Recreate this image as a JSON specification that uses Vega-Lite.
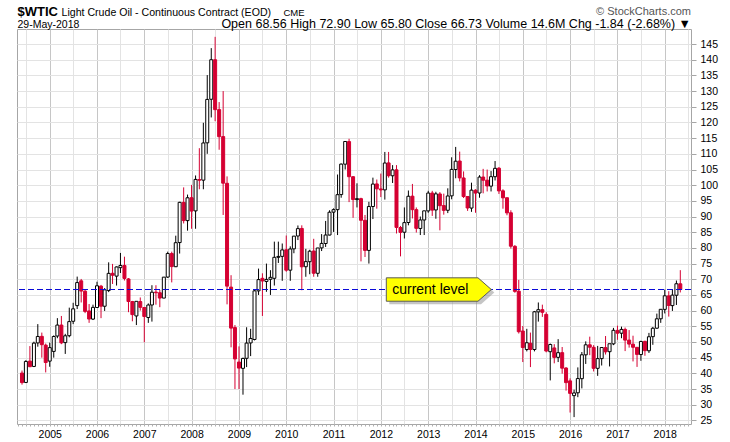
{
  "$schema": "https://vega.github.io/schema/vega-lite/v6.json",
  "width": 674,
  "height": 395,
  "autosize": {"type": "none"},
  "padding": {"left": 17, "top": 29, "right": 39, "bottom": 18},
  "background": "white",
  "config": {
    "font": "Liberation Sans",
    "view": {"stroke": "#a6a6a6", "strokeWidth": 1}
  },
  "title": {
    "text": "© StockCharts.com",
    "subtitle": "Open 68.56  High 72.90  Low 65.80  Close 66.73  Volume 14.6M  Chg -1.84 (-2.68%) ▼",
    "anchor": "end",
    "frame": "group",
    "offset": -25,
    "fontSize": 11,
    "fontWeight": "normal",
    "color": "#555555",
    "subtitleFontSize": 12.5,
    "subtitleColor": "#000000",
    "subtitlePadding": 1
  },
  "data": {
    "values": [
      {"d": "2004-06-01", "o": 40.1, "h": 40.9, "l": 36.4, "c": 37.05},
      {"d": "2004-07-01", "o": 37.1, "h": 44.2, "l": 36.9, "c": 43.8},
      {"d": "2004-08-01", "o": 43.9, "h": 48.7, "l": 42.0, "c": 42.12},
      {"d": "2004-09-01", "o": 42.2, "h": 50.1, "l": 42.0, "c": 49.64},
      {"d": "2004-10-01", "o": 49.7, "h": 55.7, "l": 48.5, "c": 51.76},
      {"d": "2004-11-01", "o": 51.8, "h": 53.0, "l": 45.0, "c": 49.13},
      {"d": "2004-12-01", "o": 49.0, "h": 49.5, "l": 40.3, "c": 43.45},
      {"d": "2005-01-01", "o": 43.9, "h": 49.8, "l": 42.1, "c": 48.2},
      {"d": "2005-02-01", "o": 47.0, "h": 52.1, "l": 45.0, "c": 51.75},
      {"d": "2005-03-01", "o": 51.9, "h": 57.6, "l": 51.2, "c": 55.4},
      {"d": "2005-04-01", "o": 55.4, "h": 58.3, "l": 49.3, "c": 49.72},
      {"d": "2005-05-01", "o": 49.8, "h": 52.6, "l": 46.2, "c": 51.97},
      {"d": "2005-06-01", "o": 52.0, "h": 60.95, "l": 51.5, "c": 56.5},
      {"d": "2005-07-01", "o": 56.6, "h": 62.5, "l": 55.7, "c": 60.57},
      {"d": "2005-08-01", "o": 61.6, "h": 70.85, "l": 60.5, "c": 68.94},
      {"d": "2005-09-01", "o": 69.5, "h": 70.1, "l": 62.6, "c": 66.24},
      {"d": "2005-10-01", "o": 66.2, "h": 66.8, "l": 59.2, "c": 59.76},
      {"d": "2005-11-01", "o": 59.9, "h": 62.1, "l": 56.1, "c": 57.32},
      {"d": "2005-12-01", "o": 57.3, "h": 61.9, "l": 57.0, "c": 61.04},
      {"d": "2006-01-01", "o": 61.0, "h": 69.2, "l": 60.9, "c": 67.92},
      {"d": "2006-02-01", "o": 67.8, "h": 68.2, "l": 57.6, "c": 61.41},
      {"d": "2006-03-01", "o": 61.4, "h": 67.2, "l": 59.9, "c": 66.63},
      {"d": "2006-04-01", "o": 66.4, "h": 75.4, "l": 65.9, "c": 71.88},
      {"d": "2006-05-01", "o": 71.9, "h": 74.9, "l": 68.5, "c": 71.29},
      {"d": "2006-06-01", "o": 71.0, "h": 74.1, "l": 68.0, "c": 73.93},
      {"d": "2006-07-01", "o": 73.7, "h": 78.4, "l": 72.0, "c": 74.4},
      {"d": "2006-08-01", "o": 74.4, "h": 77.2, "l": 69.6, "c": 70.26},
      {"d": "2006-09-01", "o": 70.1, "h": 70.4, "l": 59.5, "c": 62.91},
      {"d": "2006-10-01", "o": 62.9, "h": 63.1, "l": 56.6, "c": 58.73},
      {"d": "2006-11-01", "o": 58.3, "h": 62.5, "l": 55.4, "c": 62.97},
      {"d": "2006-12-01", "o": 62.9, "h": 64.2, "l": 60.0, "c": 61.05},
      {"d": "2007-01-01", "o": 61.0, "h": 61.1, "l": 49.9, "c": 58.14},
      {"d": "2007-02-01", "o": 57.8, "h": 62.3, "l": 56.1, "c": 61.79},
      {"d": "2007-03-01", "o": 61.8, "h": 68.1, "l": 56.5, "c": 65.87},
      {"d": "2007-04-01", "o": 65.9, "h": 68.1, "l": 61.9, "c": 65.71},
      {"d": "2007-05-01", "o": 65.7, "h": 66.6, "l": 61.1, "c": 64.01},
      {"d": "2007-06-01", "o": 64.0, "h": 70.7, "l": 64.0, "c": 70.68},
      {"d": "2007-07-01", "o": 70.7, "h": 78.8, "l": 70.4, "c": 78.21},
      {"d": "2007-08-01", "o": 78.2, "h": 78.8, "l": 69.0, "c": 74.04},
      {"d": "2007-09-01", "o": 74.0, "h": 83.9, "l": 73.9, "c": 81.66},
      {"d": "2007-10-01", "o": 81.7, "h": 94.7, "l": 78.2, "c": 94.53},
      {"d": "2007-11-01", "o": 94.5, "h": 99.3, "l": 87.8, "c": 88.71},
      {"d": "2007-12-01", "o": 88.7, "h": 97.0, "l": 85.5, "c": 95.98},
      {"d": "2008-01-01", "o": 96.0, "h": 100.1, "l": 86.1, "c": 91.75},
      {"d": "2008-02-01", "o": 91.8, "h": 103.1, "l": 86.1, "c": 101.84},
      {"d": "2008-03-01", "o": 101.8, "h": 111.8, "l": 98.7, "c": 101.58},
      {"d": "2008-04-01", "o": 101.6, "h": 119.9, "l": 98.7, "c": 113.46},
      {"d": "2008-05-01", "o": 113.5, "h": 135.1, "l": 110.0, "c": 127.35},
      {"d": "2008-06-01", "o": 127.4, "h": 143.7, "l": 121.6, "c": 140.0},
      {"d": "2008-07-01", "o": 140.0, "h": 147.3, "l": 120.4, "c": 124.08},
      {"d": "2008-08-01", "o": 124.1, "h": 126.5, "l": 111.3, "c": 115.46},
      {"d": "2008-09-01", "o": 115.5, "h": 130.0, "l": 90.5, "c": 100.64},
      {"d": "2008-10-01", "o": 100.6, "h": 102.8, "l": 62.0, "c": 67.81},
      {"d": "2008-11-01", "o": 67.5, "h": 71.3, "l": 48.3, "c": 54.43},
      {"d": "2008-12-01", "o": 54.6, "h": 55.4, "l": 35.0, "c": 44.6},
      {"d": "2009-01-01", "o": 43.6, "h": 48.6, "l": 35.0, "c": 41.68},
      {"d": "2009-02-01", "o": 41.6, "h": 45.0, "l": 33.2, "c": 44.76},
      {"d": "2009-03-01", "o": 44.8, "h": 54.7, "l": 42.0, "c": 49.66},
      {"d": "2009-04-01", "o": 49.7, "h": 54.2, "l": 45.5, "c": 51.12},
      {"d": "2009-05-01", "o": 50.8, "h": 66.6, "l": 50.5, "c": 66.31},
      {"d": "2009-06-01", "o": 66.3, "h": 73.4, "l": 65.0, "c": 69.89},
      {"d": "2009-07-01", "o": 70.3, "h": 71.9, "l": 58.3, "c": 69.45},
      {"d": "2009-08-01", "o": 69.3, "h": 75.0, "l": 66.0, "c": 69.96},
      {"d": "2009-09-01", "o": 70.0, "h": 72.9, "l": 65.0, "c": 70.61},
      {"d": "2009-10-01", "o": 70.3, "h": 82.0, "l": 68.0, "c": 77.0},
      {"d": "2009-11-01", "o": 77.0, "h": 82.0, "l": 75.2, "c": 77.28},
      {"d": "2009-12-01", "o": 77.3, "h": 81.4, "l": 69.5, "c": 79.36},
      {"d": "2010-01-01", "o": 79.4, "h": 83.95, "l": 72.4, "c": 72.89},
      {"d": "2010-02-01", "o": 72.9, "h": 80.5, "l": 69.5, "c": 79.66},
      {"d": "2010-03-01", "o": 79.7, "h": 83.8, "l": 78.3, "c": 83.76},
      {"d": "2010-04-01", "o": 83.8, "h": 87.15, "l": 82.5, "c": 86.15},
      {"d": "2010-05-01", "o": 86.2, "h": 87.2, "l": 66.5, "c": 73.97},
      {"d": "2010-06-01", "o": 74.0, "h": 79.7, "l": 70.8, "c": 75.63},
      {"d": "2010-07-01", "o": 75.6, "h": 79.4, "l": 71.6, "c": 78.95},
      {"d": "2010-08-01", "o": 79.0, "h": 82.9, "l": 70.8, "c": 71.92},
      {"d": "2010-09-01", "o": 71.9, "h": 80.0, "l": 70.8, "c": 79.97},
      {"d": "2010-10-01", "o": 80.0, "h": 84.4, "l": 79.0, "c": 81.43},
      {"d": "2010-11-01", "o": 81.4, "h": 88.6, "l": 80.3, "c": 84.11},
      {"d": "2010-12-01", "o": 84.1, "h": 92.0, "l": 84.0, "c": 91.38},
      {"d": "2011-01-01", "o": 91.4, "h": 92.6, "l": 85.1, "c": 92.19},
      {"d": "2011-02-01", "o": 92.2, "h": 103.4, "l": 84.1, "c": 96.97},
      {"d": "2011-03-01", "o": 97.0, "h": 106.9, "l": 96.0, "c": 106.72},
      {"d": "2011-04-01", "o": 106.7, "h": 114.0, "l": 105.0, "c": 113.93},
      {"d": "2011-05-01", "o": 113.9, "h": 114.8, "l": 94.6, "c": 102.7},
      {"d": "2011-06-01", "o": 102.7, "h": 102.9, "l": 89.6, "c": 95.42},
      {"d": "2011-07-01", "o": 95.4, "h": 100.6, "l": 92.9, "c": 95.7},
      {"d": "2011-08-01", "o": 95.7, "h": 96.0, "l": 75.7, "c": 88.81},
      {"d": "2011-09-01", "o": 88.8, "h": 90.5, "l": 77.1, "c": 79.2},
      {"d": "2011-10-01", "o": 79.2, "h": 94.7, "l": 75.0, "c": 93.19},
      {"d": "2011-11-01", "o": 93.2, "h": 102.4, "l": 89.2, "c": 100.36},
      {"d": "2011-12-01", "o": 100.4, "h": 101.8, "l": 92.5, "c": 98.83},
      {"d": "2012-01-01", "o": 98.8, "h": 103.7, "l": 96.2, "c": 98.48},
      {"d": "2012-02-01", "o": 98.5, "h": 110.6, "l": 95.4, "c": 107.07},
      {"d": "2012-03-01", "o": 107.1, "h": 110.6, "l": 102.4, "c": 103.02},
      {"d": "2012-04-01", "o": 103.0, "h": 106.4, "l": 100.7, "c": 104.87},
      {"d": "2012-05-01", "o": 104.9, "h": 106.4, "l": 84.6, "c": 86.53},
      {"d": "2012-06-01", "o": 86.5, "h": 87.0, "l": 77.3, "c": 84.96},
      {"d": "2012-07-01", "o": 85.0, "h": 92.9, "l": 83.0, "c": 88.06},
      {"d": "2012-08-01", "o": 88.1, "h": 98.3, "l": 87.2, "c": 96.47},
      {"d": "2012-09-01", "o": 96.5, "h": 100.4, "l": 89.4, "c": 92.19},
      {"d": "2012-10-01", "o": 92.2, "h": 92.9, "l": 84.9, "c": 86.24},
      {"d": "2012-11-01", "o": 86.2, "h": 90.0, "l": 84.1, "c": 88.91},
      {"d": "2012-12-01", "o": 88.9, "h": 91.8, "l": 84.1, "c": 91.82},
      {"d": "2013-01-01", "o": 91.8, "h": 98.2, "l": 91.2, "c": 97.49},
      {"d": "2013-02-01", "o": 97.5, "h": 98.2, "l": 90.2, "c": 92.05},
      {"d": "2013-03-01", "o": 92.1, "h": 97.9, "l": 89.3, "c": 97.23},
      {"d": "2013-04-01", "o": 97.2, "h": 97.8, "l": 85.6, "c": 93.46},
      {"d": "2013-05-01", "o": 93.5, "h": 97.3, "l": 90.6, "c": 91.97},
      {"d": "2013-06-01", "o": 92.0, "h": 99.0, "l": 91.1, "c": 96.56},
      {"d": "2013-07-01", "o": 96.6, "h": 108.9, "l": 95.5, "c": 105.03},
      {"d": "2013-08-01", "o": 105.0, "h": 112.2, "l": 102.2, "c": 107.65},
      {"d": "2013-09-01", "o": 107.7, "h": 110.7, "l": 101.2, "c": 102.33},
      {"d": "2013-10-01", "o": 102.3, "h": 104.4, "l": 95.9, "c": 96.38},
      {"d": "2013-11-01", "o": 96.4, "h": 96.4, "l": 91.8, "c": 92.72},
      {"d": "2013-12-01", "o": 92.7, "h": 100.8, "l": 91.5, "c": 98.42},
      {"d": "2014-01-01", "o": 98.4, "h": 98.7, "l": 91.2, "c": 97.49},
      {"d": "2014-02-01", "o": 97.5, "h": 103.2, "l": 96.0, "c": 102.59},
      {"d": "2014-03-01", "o": 102.6, "h": 105.2, "l": 97.4, "c": 101.58},
      {"d": "2014-04-01", "o": 101.6, "h": 104.99, "l": 98.0, "c": 99.74},
      {"d": "2014-05-01", "o": 99.7, "h": 104.5, "l": 98.0, "c": 102.71},
      {"d": "2014-06-01", "o": 102.7, "h": 107.7, "l": 101.5, "c": 105.37},
      {"d": "2014-07-01", "o": 105.4, "h": 105.8, "l": 97.2, "c": 98.17},
      {"d": "2014-08-01", "o": 98.2, "h": 98.7, "l": 92.5, "c": 95.96},
      {"d": "2014-09-01", "o": 96.0, "h": 96.0, "l": 90.4, "c": 91.16},
      {"d": "2014-10-01", "o": 91.2, "h": 92.0, "l": 79.8, "c": 80.54},
      {"d": "2014-11-01", "o": 80.5, "h": 80.9, "l": 65.7, "c": 66.15},
      {"d": "2014-12-01", "o": 66.2, "h": 69.8, "l": 52.7, "c": 53.27},
      {"d": "2015-01-01", "o": 53.5, "h": 55.1, "l": 43.6, "c": 48.24},
      {"d": "2015-02-01", "o": 47.6, "h": 54.2, "l": 47.0, "c": 49.76},
      {"d": "2015-03-01", "o": 49.6, "h": 53.0, "l": 42.0, "c": 47.6},
      {"d": "2015-04-01", "o": 47.6, "h": 59.9, "l": 47.0, "c": 59.63},
      {"d": "2015-05-01", "o": 59.6, "h": 62.6, "l": 56.5, "c": 60.3},
      {"d": "2015-06-01", "o": 60.3, "h": 61.9, "l": 58.0, "c": 59.47},
      {"d": "2015-07-01", "o": 58.8, "h": 59.5, "l": 46.7, "c": 47.12},
      {"d": "2015-08-01", "o": 46.9, "h": 49.5, "l": 37.75, "c": 49.2},
      {"d": "2015-09-01", "o": 48.1, "h": 49.3, "l": 43.2, "c": 45.09},
      {"d": "2015-10-01", "o": 45.1, "h": 50.9, "l": 43.6, "c": 46.59},
      {"d": "2015-11-01", "o": 46.6, "h": 48.4, "l": 39.9, "c": 41.65},
      {"d": "2015-12-01", "o": 41.7, "h": 42.0, "l": 34.5, "c": 37.04},
      {"d": "2016-01-01", "o": 37.6, "h": 38.4, "l": 27.5, "c": 33.62},
      {"d": "2016-02-01", "o": 32.9, "h": 34.8, "l": 26.05, "c": 33.75},
      {"d": "2016-03-01", "o": 33.8, "h": 41.9, "l": 32.4, "c": 38.34},
      {"d": "2016-04-01", "o": 38.3, "h": 46.8, "l": 35.2, "c": 45.92},
      {"d": "2016-05-01", "o": 45.9, "h": 50.2, "l": 43.0, "c": 49.1},
      {"d": "2016-06-01", "o": 49.1, "h": 51.7, "l": 45.8, "c": 48.33},
      {"d": "2016-07-01", "o": 48.3, "h": 49.0, "l": 40.6, "c": 41.6},
      {"d": "2016-08-01", "o": 41.6, "h": 48.75, "l": 39.2, "c": 44.7},
      {"d": "2016-09-01", "o": 44.7, "h": 48.4, "l": 42.5, "c": 48.24},
      {"d": "2016-10-01", "o": 48.2, "h": 51.9, "l": 46.0, "c": 46.86},
      {"d": "2016-11-01", "o": 46.9, "h": 49.2, "l": 42.2, "c": 49.44},
      {"d": "2016-12-01", "o": 49.4, "h": 54.5, "l": 49.0, "c": 53.72},
      {"d": "2017-01-01", "o": 53.7, "h": 55.2, "l": 50.7, "c": 52.81},
      {"d": "2017-02-01", "o": 52.8, "h": 54.9, "l": 51.2, "c": 54.01},
      {"d": "2017-03-01", "o": 54.0, "h": 54.6, "l": 47.1, "c": 50.6},
      {"d": "2017-04-01", "o": 50.6, "h": 53.8, "l": 48.2, "c": 49.33},
      {"d": "2017-05-01", "o": 49.3, "h": 52.0, "l": 43.8, "c": 48.32},
      {"d": "2017-06-01", "o": 48.3, "h": 48.4, "l": 42.05, "c": 46.04},
      {"d": "2017-07-01", "o": 46.0, "h": 50.4, "l": 44.0, "c": 50.17},
      {"d": "2017-08-01", "o": 50.2, "h": 50.4, "l": 45.6, "c": 47.23},
      {"d": "2017-09-01", "o": 47.2, "h": 52.9, "l": 46.5, "c": 51.67},
      {"d": "2017-10-01", "o": 51.7, "h": 54.8, "l": 49.1, "c": 54.38},
      {"d": "2017-11-01", "o": 54.4, "h": 59.05, "l": 54.2, "c": 57.4},
      {"d": "2017-12-01", "o": 57.4, "h": 60.5, "l": 56.1, "c": 60.42},
      {"d": "2018-01-01", "o": 60.4, "h": 66.7, "l": 59.1, "c": 64.73},
      {"d": "2018-02-01", "o": 64.7, "h": 66.2, "l": 58.1, "c": 61.64},
      {"d": "2018-03-01", "o": 61.6, "h": 66.6, "l": 59.9, "c": 64.94},
      {"d": "2018-04-01", "o": 64.9, "h": 69.6, "l": 61.8, "c": 68.57},
      {"d": "2018-05-01", "o": 68.56, "h": 72.9, "l": 65.8, "c": 66.73}
    ]
  },
  "layer": [
    {
      "mark": {"type": "rule", "clip": true, "strokeWidth": 1},
      "encoding": {
        "x": {
          "field": "d",
          "type": "temporal",
          "scale": {
            "type": "utc",
            "domain": [
              {"year": 2004, "month": 6, "date": 1, "utc": true},
              {"year": 2018, "month": 6, "date": 14, "utc": true}
            ]
          },
          "axis": {
            "orient": "bottom",
            "title": "29-May-2018",
            "titleX": 0,
            "titleY": -396.7,
            "titleAngle": 0,
            "titleAlign": "left",
            "titleBaseline": "alphabetic",
            "titleFontSize": 10.5,
            "titleFontWeight": "normal",
            "titleColor": "#000000",
            "tickCount": {"interval": "month", "step": 1},
            "labelExpr": "utcmonth(datum.value) == 0 ? utcFormat(datum.value, '%Y') : ''",
            "labelOverlap": false,
            "labelFlush": false,
            "labelFontSize": 10.5,
            "labelColor": "#000000",
            "labelPadding": 3,
            "domain": false,
            "tickSize": 2,
            "tickColor": "#b0b0b0",
            "grid": true,
            "gridColor": {"condition": {"test": "utcmonth(datum.value) == 0", "value": "#c6c6c6"}, "value": "#e3e3e3"},
            "gridOpacity": {"condition": {"test": "utcmonth(datum.value) % 6 == 0", "value": 1}, "value": 0}
          }
        },
        "y": {
          "field": "l",
          "type": "quantitative",
          "scale": {"domain": [23.85, 149.8], "nice": false, "zero": false},
          "axis": {
            "orient": "right",
            "values": [25, 30, 35, 40, 45, 50, 55, 60, 65, 70, 75, 80, 85, 90, 95, 100, 105, 110, 115, 120, 125, 130, 135, 140, 145],
            "title": "CME",
            "titleX": -408,
            "titleY": -14,
            "titleAngle": 0,
            "titleAlign": "left",
            "titleBaseline": "alphabetic",
            "titleFontSize": 9.5,
            "titleFontWeight": "normal",
            "titleColor": "#000000",
            "labelFontSize": 10.5,
            "labelColor": "#000000",
            "labelPadding": 4,
            "tickSize": 5,
            "tickColor": "#a6a6a6",
            "domain": false,
            "grid": true,
            "gridColor": "#e3e3e3"
          }
        },
        "y2": {"field": "h"},
        "color": {"condition": {"test": "datum.c >= datum.o", "value": "#000000"}, "value": "#d50032"}
      }
    },
    {
      "mark": {"type": "bar", "clip": true, "size": 3, "strokeWidth": 1},
      "encoding": {
        "x": {
          "field": "d",
          "type": "temporal",
          "axis": {
            "orient": "top",
            "title": "Light Crude Oil - Continuous Contract (EOD)",
            "titleX": 44,
            "titleY": -14,
            "titleAngle": 0,
            "titleAlign": "left",
            "titleBaseline": "alphabetic",
            "titleFontSize": 10.6,
            "titleFontWeight": "normal",
            "titleColor": "#000000",
            "labels": false,
            "ticks": false,
            "domain": false,
            "grid": false
          }
        },
        "y": {
          "field": "o",
          "type": "quantitative",
          "axis": {
            "orient": "left",
            "title": "$WTIC",
            "titleX": 0,
            "titleY": -14,
            "titleAngle": 0,
            "titleAlign": "left",
            "titleBaseline": "alphabetic",
            "titleFontSize": 13,
            "titleFontWeight": "bold",
            "titleColor": "#000000",
            "labels": false,
            "ticks": false,
            "domain": false,
            "grid": false
          }
        },
        "y2": {"field": "c"},
        "fill": {"condition": {"test": "datum.c >= datum.o", "value": "#ffffff"}, "value": "#d50032"},
        "stroke": {"condition": {"test": "datum.c >= datum.o", "value": "#000000"}, "value": "#d50032"}
      }
    },
    {
      "data": {"values": [{}]},
      "mark": {"type": "rule", "stroke": "#0a0ad8", "strokeDash": [6, 3], "strokeWidth": 1.2},
      "encoding": {
        "y": {"datum": 66.73, "type": "quantitative", "axis": null}
      }
    },
    {
      "data": {"values": [{}]},
      "mark": {
        "type": "point",
        "shape": "M0,0L-1.33,-1.17L-10.5,-1.17L-10.5,1.17L-1.33,1.17Z",
        "size": 400,
        "filled": true,
        "fill": "#8c8c8c",
        "opacity": 0.5,
        "strokeWidth": 0,
        "xOffset": 3,
        "yOffset": 3
      },
      "encoding": {
        "x": {"datum": {"year": 2014, "month": 5, "date": 3, "utc": true}, "type": "temporal", "axis": null},
        "y": {"datum": 66.73, "type": "quantitative", "axis": null}
      }
    },
    {
      "data": {"values": [{}]},
      "mark": {
        "type": "point",
        "shape": "M0,0L-1.33,-1.17L-10.5,-1.17L-10.5,1.17L-1.33,1.17Z",
        "size": 400,
        "filled": true,
        "fill": "#ffff00",
        "stroke": "#5a5a5a",
        "strokeWidth": 1,
        "opacity": 1
      },
      "encoding": {
        "x": {"datum": {"year": 2014, "month": 5, "date": 3, "utc": true}, "type": "temporal", "axis": null},
        "y": {"datum": 66.73, "type": "quantitative", "axis": null}
      }
    },
    {
      "data": {"values": [{}]},
      "mark": {
        "type": "text",
        "text": "current level",
        "fontSize": 14,
        "dx": -61,
        "dy": 4,
        "align": "center",
        "baseline": "alphabetic",
        "color": "#000000"
      },
      "encoding": {
        "x": {"datum": {"year": 2014, "month": 5, "date": 3, "utc": true}, "type": "temporal", "axis": null},
        "y": {"datum": 66.73, "type": "quantitative", "axis": null}
      }
    }
  ],
  "resolve": {"axis": {"x": "independent", "y": "independent"}}
}
